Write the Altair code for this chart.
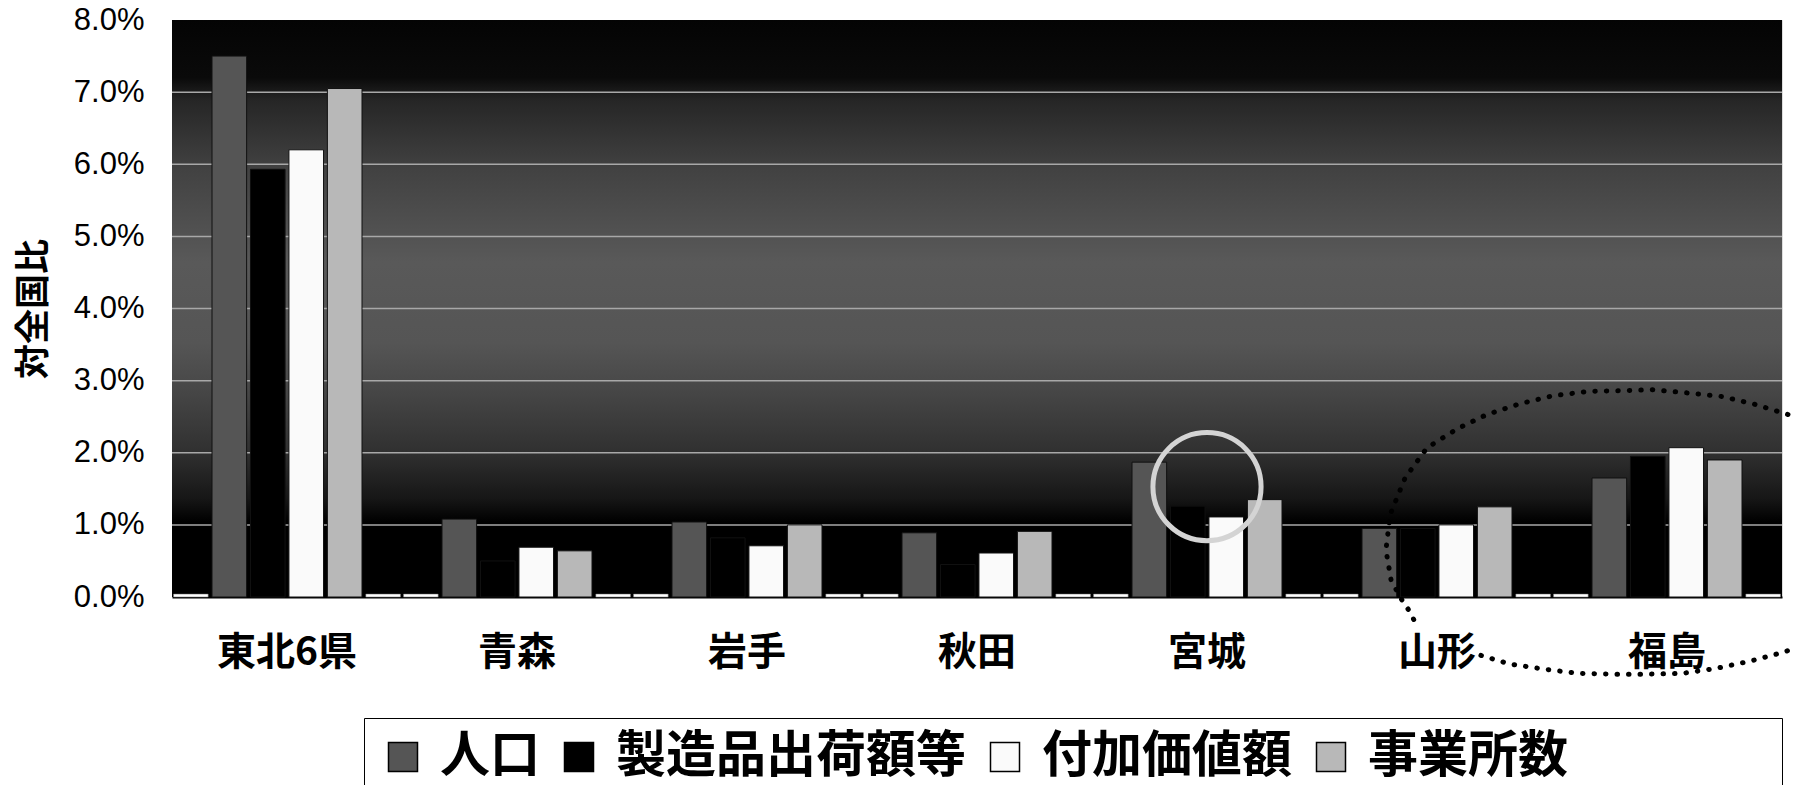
import altair as alt
import pandas as pd

# Share of the national total (%), Tohoku region and its six prefectures
categories = ["東北6県", "青森", "岩手", "秋田", "宮城", "山形", "福島"]
series_names = ["人口", "製造品出荷額等", "付加価値額", "事業所数"]
population = [7.50, 1.08, 1.04, 0.89, 1.87, 0.95, 1.65]
shipments = [5.93, 0.50, 0.82, 0.45, 1.26, 0.95, 1.95]
value_added = [6.20, 0.69, 0.71, 0.61, 1.11, 1.00, 2.07]
establishments = [7.05, 0.64, 1.00, 0.91, 1.35, 1.25, 1.90]
series_colors = ["#555555", "#000000", "#fafafa", "#b8b8b8"]

# thin floor strips at both ends of every group
slots = ["左端", "人口", "製造品出荷額等", "付加価値額", "事業所数", "右端"]
edge_left = [0.04, 0.04, 0.04, 0.04, 0.04, 0.04, 0.04]
edge_right = [0.04, 0.04, 0.04, 0.04, 0.04, 0.04, 0.04]

y_ticks = [0.0, 1.0, 2.0, 3.0, 4.0, 5.0, 6.0, 7.0, 8.0]
grid_ticks = [1.0, 2.0, 3.0, 4.0, 5.0, 6.0, 7.0]

# hand-drawn highlights: ring over 宮城, dotted loop around 福島
ring_category = ["宮城"]
ring_value = [1.53]
loop_part = ["a"] * 19 + ["b"] * 11
loop_x = [7.026, 6.883, 6.739, 6.587, 6.435, 6.309, 6.157, 6.004, 5.861, 5.717,
          5.587, 5.457, 5.361, 5.296, 5.278, 5.300, 5.339, 5.383, 5.417,
          5.691, 5.817, 5.965, 6.117, 6.265, 6.413, 6.565, 6.713, 6.861, 7.013, 7.078]
loop_y = [2.53, 2.67, 2.78, 2.83, 2.875, 2.86, 2.85, 2.79, 2.68, 2.53,
          2.33, 2.07, 1.65, 1.14, 0.65, 0.24, 0.00, -0.21, -0.43,
          -0.81, -0.93, -1.00, -1.06, -1.07, -1.07, -1.06, -0.99, -0.89, -0.76, -0.67]

W, H = 1610, 577
JP = "Noto Sans CJK JP"

rows = []
for name, vals in zip(series_names, [population, shipments, value_added, establishments]):
    for c, v in zip(categories, vals):
        rows.append({"category": c, "series": name, "value": v / 100})
bars_df = pd.DataFrame(rows)

edge_rows = []
for c, a, b in zip(categories, edge_left, edge_right):
    edge_rows.append({"category": c, "slot": "左端", "value": a / 100})
    edge_rows.append({"category": c, "slot": "右端", "value": b / 100})
edge_df = pd.DataFrame(edge_rows)

grid_df = pd.DataFrame({"tick": [t / 100 for t in grid_ticks]})
ring_df = pd.DataFrame({"category": ring_category, "value": [v / 100 for v in ring_value]})
loop_df = pd.DataFrame({"part": loop_part, "order": list(range(len(loop_x))),
                        "xu": loop_x, "pct": [v / 100 for v in loop_y]})
panel_df = pd.DataFrame({"panel": [0]})

y_scale = alt.Scale(domain=[0, 0.08], nice=False, zero=True)
y_axis = alt.Axis(values=[t / 100 for t in y_ticks], format=".1%", grid=False, ticks=False,
                  domain=False, labelFont="Liberation Sans", labelFontSize=31,
                  labelColor="black", labelPadding=28, title="対全国比",
                  titleFont=JP, titleFontSize=35, titleFontWeight="bold",
                  titleColor="black", titlePadding=22)
x_scale = alt.Scale(domain=categories, paddingInner=0, paddingOuter=0)
x_axis = alt.Axis(title=None, labelAngle=0, ticks=False, domainColor="black",
                  domainWidth=2, labelFont=JP, labelFontSize=39, labelFontWeight="bold",
                  labelColor="black", labelPadding=55, labelBaseline="middle")
off_scale = alt.Scale(domain=slots, paddingInner=0.1, paddingOuter=0.04)


def xenc():
    return alt.X("category:N", sort=categories, scale=x_scale, axis=x_axis)


def yenc(field):
    return alt.Y(field, scale=y_scale, axis=y_axis)


backdrop = alt.Chart(panel_df).mark_rect(
    fill={
        "gradient": "linear", "x1": 0, "y1": 0, "x2": 0, "y2": 1,
        "stops": [
            {"offset": 0.0, "color": "#040404"},
            {"offset": 0.10, "color": "#0a0a0a"},
            {"offset": 0.14, "color": "#262626"},
            {"offset": 0.26, "color": "#424242"},
            {"offset": 0.42, "color": "#595959"},
            {"offset": 0.56, "color": "#555555"},
            {"offset": 0.64, "color": "#474747"},
            {"offset": 0.75, "color": "#303030"},
            {"offset": 0.83, "color": "#161616"},
            {"offset": 0.87, "color": "#000000"},
            {"offset": 1.0, "color": "#000000"},
        ],
    }
).encode(x=alt.value(0), x2=alt.value(W), y=alt.value(0), y2=alt.value(H))

grid = alt.Chart(grid_df).mark_rule(color="#a8a8a8", strokeWidth=1.5).encode(
    y=yenc("tick:Q")
)

# the legend frame runs on past the last entry: the last label carries
# ideographic spaces (closed by a zero-width space so they are not trimmed)
bars = alt.Chart(bars_df).mark_bar(stroke="#111111", strokeWidth=1).encode(
    x=xenc(),
    xOffset=alt.XOffset("series:N", scale=off_scale),
    y=yenc("value:Q"),
    color=alt.Color(
        "series:N",
        scale=alt.Scale(domain=series_names, range=series_colors),
        legend=alt.Legend(
            title=None, orient="none", legendX=192, legendY=698,
            direction="horizontal", columns=4, symbolType="square",
            symbolSize=841, symbolStrokeColor="black", symbolStrokeWidth=1.5,
            symbolOpacity=1, labelFont=JP, labelFontSize=50, labelFontWeight="bold",
            labelColor="black", labelLimit=1200, labelOffset=12, columnPadding=14,
            padding=14, strokeColor="black", fillColor="white",
            labelExpr="datum.label == '事業所数' ? datum.label + '\u3000\u3000\u3000\u3000\u200b' : datum.label",
        ),
    ),
)

edges = alt.Chart(edge_df).mark_bar(color="white", stroke="#777777", strokeWidth=0.5).encode(
    x=xenc(),
    xOffset=alt.XOffset("slot:N", scale=off_scale),
    y=yenc("value:Q"),
)

ring = alt.Chart(ring_df).mark_point(
    shape="circle", filled=False, size=11700, color="#d4d4d4", strokeWidth=5, opacity=1
).encode(x=xenc(), y=yenc("value:Q"))

inner = alt.layer(backdrop, grid, bars, edges, ring)

loop = alt.Chart(loop_df).mark_line(
    color="black", strokeWidth=5, strokeDash=[0.5, 11], strokeCap="round", clip=False
).encode(
    x=alt.X("xu:Q", scale=alt.Scale(domain=[0, 7], nice=False, zero=False), axis=None),
    y=yenc("pct:Q"),
    detail="part:N",
    order="order:Q",
)

chart = (
    alt.layer(inner, loop)
    .resolve_scale(x="independent")
    .properties(
        width=W, height=H,
        autosize=alt.AutoSizeParams(type="none"),
        padding={"left": 172, "top": 20, "right": 12, "bottom": 188},
    )
    .configure_view(stroke="black", strokeWidth=2)
    .configure_legend(strokeWidth=2)
    .configure(background="white")
)

chart.save("out.html", embed_options={"renderer": "svg", "actions": False})
